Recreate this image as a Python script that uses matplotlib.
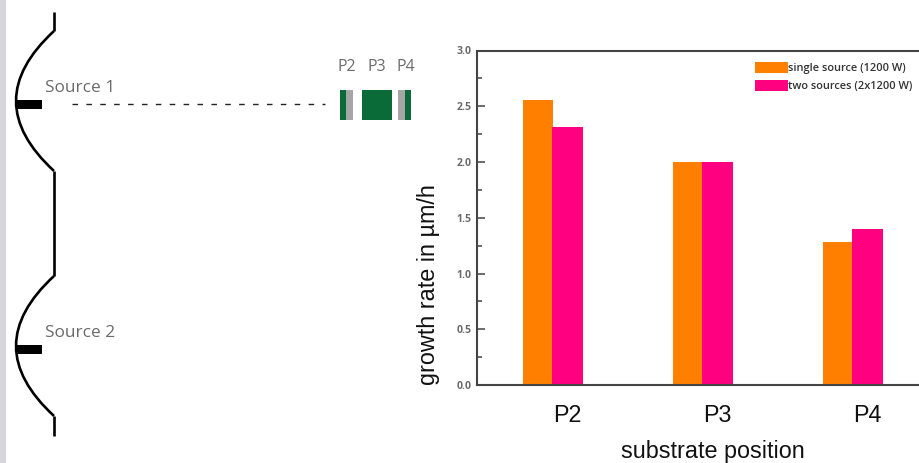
"""
plot.py
Growth rate per substrate position, with the two-source schematic on the left.
"""

import matplotlib
matplotlib.use("Agg")
import matplotlib.pyplot as plt
from matplotlib.patches import PathPatch, Rectangle
from matplotlib.path import Path
from matplotlib.ticker import MultipleLocator


# ---------------------------------------------------------------------------
# DATA
# ---------------------------------------------------------------------------
positions = ["P2", "P3", "P4"]
single_source = [2.56, 2.00, 1.28]
two_sources = [2.31, 2.00, 1.40]
series_labels = ["single source (1200 W)", "two sources (2x1200 W)"]

source_labels = ["Source 1", "Source 2"]
source_y = [104, 349]

# ---------------------------------------------------------------------------
# STYLE
# ---------------------------------------------------------------------------
W, H = 920, 463
ORANGE = "#ff8000"
PINK = "#ff0080"
GREEN = "#0a6b38"
SUBSTRATE_GRAY = "#a6a6a6"
TEXT_GRAY = "#6b6b6b"
AXIS_DARK = "#444444"
STRIP = "#d6d6dc"
UI_FONT = ["Open Sans", "DejaVu Sans"]
LABEL_FONT = ["Liberation Sans", "DejaVu Sans"]

plt.rcParams["font.family"] = UI_FONT


def draw_source(ax, y_mid):
    """One curved reflector with its black source bar, in pixel coordinates."""
    verts = [(54, y_mid - 73), (-22, y_mid - 3), (54, y_mid + 67)]
    codes = [Path.MOVETO, Path.CURVE3, Path.CURVE3]
    ax.add_patch(PathPatch(Path(verts, codes), fill=False, ec="black", lw=1.9))
    ax.add_patch(Rectangle((16, y_mid - 4.5), 26, 9, fc="black", ec="none"))


def draw_schematic(fig):
    ax = fig.add_axes([0, 0, 1, 1])
    ax.set_xlim(0, W)
    ax.set_ylim(H, 0)
    ax.axis("off")

    ax.add_patch(Rectangle((0, 0), 6, H, fc=STRIP, ec="none"))

    for label, y_mid in zip(source_labels, source_y):
        draw_source(ax, y_mid)
        ax.text(45, y_mid - 16, label, color=TEXT_GRAY, fontsize=12.4,
                ha="left", va="center")

    # straight pieces of the wall
    ax.plot([54, 54], [12, 31], color="black", lw=1.9, solid_capstyle="butt")
    ax.plot([54, 54], [171, 276], color="black", lw=1.9, solid_capstyle="butt")
    ax.plot([54, 54], [416, 436], color="black", lw=1.9, solid_capstyle="butt")

    ax.plot([72, 325], [104, 104], color="#222222", lw=1.0, dashes=(4, 6))

    # substrates
    ax.add_patch(Rectangle((340, 89.5), 6.5, 30, fc=GREEN, ec="none"))
    ax.add_patch(Rectangle((346.5, 89.5), 6.5, 30, fc=SUBSTRATE_GRAY, ec="none"))
    ax.add_patch(Rectangle((362, 89.5), 30, 30, fc=GREEN, ec="none"))
    ax.add_patch(Rectangle((398, 89.5), 7, 30, fc=SUBSTRATE_GRAY, ec="none"))
    ax.add_patch(Rectangle((405, 89.5), 6, 30, fc=GREEN, ec="none"))
    for label, x_mid in zip(positions, [347, 377, 406]):
        ax.text(x_mid, 67, label, color=TEXT_GRAY, fontsize=11.5,
                ha="center", va="center")


def draw_bars(fig):
    left, right, top, bottom = 476.7, 926, 50.5, 385
    ax = fig.add_axes([left / W, (H - bottom) / H,
                       (right - left) / W, (bottom - top) / H])

    x = range(len(positions))
    orange_x = [i - 0.1 for i in x]
    pink_x = [i + 0.1 for i in x]
    b1 = ax.bar(orange_x, single_source, width=0.2, color=ORANGE, label=series_labels[0])
    b2 = ax.bar(pink_x, two_sources, width=0.21, color=PINK, label=series_labels[1])

    # 150 px between groups, first group centred on x = 552.5
    ax.set_xlim((left - 552.5) / 150, (right - 552.5) / 150)
    ax.set_ylim(0, 3.0)

    ax.yaxis.set_major_locator(MultipleLocator(0.5))
    ax.yaxis.set_minor_locator(MultipleLocator(0.25))
    ax.tick_params(axis="y", which="major", direction="in", length=6, width=1.1,
                   color=AXIS_DARK, labelsize=7.6, labelcolor=TEXT_GRAY, pad=3.5)
    ax.tick_params(axis="y", which="minor", direction="in", length=3.5, width=1.1,
                   color=AXIS_DARK)
    for lbl in ax.get_yticklabels():
        lbl.set_fontweight("bold")

    # category labels sit one bar width to the right of the group centre
    ax.set_xticks([i + 0.1 for i in x])
    ax.set_xticklabels(positions, family=LABEL_FONT, fontsize=16.8)
    ax.tick_params(axis="x", length=0, pad=13.5, labelcolor="#111111")

    for side in ["left", "top", "bottom"]:
        ax.spines[side].set_linewidth(1.5)
        ax.spines[side].set_color(AXIS_DARK)
    ax.spines["right"].set_visible(False)

    ax.set_xlabel("substrate position", family=LABEL_FONT, fontsize=16.8, color="#111111")
    ax.xaxis.set_label_coords((713 - left) / (right - left), (bottom - 440) / (bottom - top))
    ax.set_ylabel("growth rate in µm/h", family=LABEL_FONT, fontsize=16.8, color="#111111")
    ax.yaxis.set_label_coords((440 - left) / (right - left), (bottom - 284.5) / (bottom - top))

    ax.legend(handles=[b1, b2], loc="upper left", frameon=False,
              bbox_to_anchor=(755 / W, 1 - 62 / H), bbox_transform=fig.transFigure,
              borderpad=0, borderaxespad=0, handlelength=3.0, handleheight=1.2,
              handletextpad=0.05, labelspacing=0.5, labelcolor="#333333",
              prop={"family": UI_FONT, "size": 7.9, "weight": "semibold"})


def main():
    fig = plt.figure(figsize=(W / 100, H / 100), dpi=100)
    fig.patch.set_facecolor("white")
    draw_schematic(fig)
    draw_bars(fig)
    fig.savefig("out.png", dpi=100)
    plt.close(fig)


if __name__ == "__main__":
    main()
